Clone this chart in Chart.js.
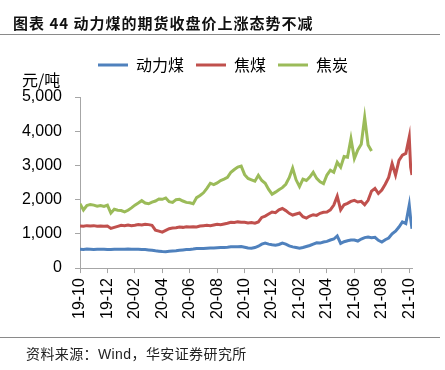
<!DOCTYPE html>
<html>
<head>
<meta charset="utf-8">
<script src="https://cdn.jsdelivr.net/npm/chart.js@4.4.0/dist/chart.umd.min.js"></script>
<style>
html, body { margin: 0; padding: 0; background: #fff; }
#wrap { position: relative; width: 445px; height: 370px; overflow: hidden; font-family: "Noto Sans CJK SC", sans-serif; }
#chart { position: absolute; left: 0; top: 0; }
#title { position: absolute; left: 13px; top: 12px; font-size: 15px; font-weight: bold; letter-spacing: 1px; color: #111; white-space: nowrap; }
.rule { position: absolute; left: 0; width: 440px; height: 1px; background: #8a8a8a; }
#unit { position: absolute; left: 22px; top: 67px; font-size: 16px; color: #000; }
#source { position: absolute; left: 26px; top: 343px; font-size: 14px; letter-spacing: 0.4px; color: #222; white-space: nowrap; }
#source .en { font-family: "Liberation Sans", Arial, sans-serif; }
</style>
</head>
<body>
<div id="wrap">
  <canvas id="chart" width="445" height="370"></canvas>
  <div id="title">图表 44 动力煤的期货收盘价上涨态势不减</div>
  <div class="rule" style="top:34px"></div>
  <div id="unit">元/吨</div>
  <div class="rule" style="top:337px"></div>
  <div id="source">资料来源：<span class="en">Wind</span>，华安证券研究所</div>
</div>
<script>
var seriesNames = ['动力煤', '焦煤', '焦炭'];
var tickLabels = ['19-10', '19-12', '20-02', '20-04', '20-06', '20-08', '20-10',
                  '20-12', '21-02', '21-04', '21-06', '21-08', '21-10'];

// x = months since 2019-10 (weekly, plus two late points in 2021-10)
var months = [];
for (var i = 0; i <= 96; i++) months.push(i / 4);
months.push(24.1, 24.2);

// 动力煤
var thermal = [
  550, 545, 555, 550, 545, 550, 548, 552,
  545, 540, 548, 552, 550, 548, 555, 550,
  552, 548, 545, 540, 530, 520, 505, 495,
  485, 480, 490, 500, 505, 520, 530, 540,
  545, 555, 570, 575, 570, 580, 585, 590,
  595, 600, 605, 610, 620, 625, 620, 630,
  610, 590, 580, 600, 640, 700, 730, 700,
  680, 670, 690, 730, 700, 650, 620, 600,
  580, 600, 630, 660, 700, 740, 730, 760,
  780, 820, 850, 940, 720, 770, 800, 820,
  820, 790, 850, 890, 910, 890, 900, 810,
  760, 830, 880, 1000, 1080, 1200, 1350, 1300,
  1840, 1450, 1150
];

// 焦煤
var cokingCoal = [
  1230, 1220, 1240, 1230, 1240, 1220, 1230, 1220,
  1230, 1160, 1190, 1220, 1250, 1240, 1260, 1240,
  1250, 1270, 1260, 1280, 1270, 1250, 1110, 1080,
  1050, 1100, 1150, 1170, 1180, 1200, 1190, 1210,
  1200, 1210, 1200, 1230, 1240, 1250, 1240, 1260,
  1280, 1270, 1290, 1310, 1340, 1330, 1350, 1340,
  1340, 1320, 1330, 1310, 1350, 1480, 1520, 1580,
  1640, 1620, 1700, 1740, 1680, 1600, 1550, 1580,
  1610, 1500, 1460, 1520, 1560, 1540, 1600, 1630,
  1640, 1700, 1840, 2100, 1700, 1850, 1890, 1950,
  1980, 1930, 1950, 1850, 1980, 2250, 2330, 2180,
  2280, 2450, 2650, 3050, 2720, 3150, 3300, 3350,
  3830, 2950, 2720
];

// 焦炭
var coke = [
  1880, 1700, 1830, 1860, 1840, 1810, 1830, 1800,
  1840, 1610, 1720, 1690, 1680, 1640, 1690, 1760,
  1840, 1900, 1970, 1900, 1880, 1930, 1960, 2020,
  2010, 2050, 1940, 1920, 2000, 2010, 1960, 1920,
  1910, 1880, 2060, 2120, 2200, 2330, 2480, 2440,
  2490, 2560, 2600, 2650, 2800, 2880, 2950, 2980,
  2730, 2620, 2580, 2540, 2710, 2560, 2480, 2300,
  2160, 2220, 2290, 2350, 2450, 2640, 2920, 2580,
  2380, 2600, 2560, 2660, 2800, 2620, 2520, 2470,
  2720, 2860, 2800, 3090, 2950, 3260, 3240, 3780,
  3200, 3450, 3620, 4400, 3600, 3420, null, null,
  null, null, null, null, null, null, null, null,
  null, null, null
];

var colors = ['#4F81BD', '#C0504D', '#9BBB59'];

function toPoints(values) {
  return months.map(function (m, i) { return { x: m, y: values[i] }; });
}

var axisGrey = '#a6a6a6';

// extra room under the legend, and nudge it right so it centres on the page
var legendTweak = {
  id: 'legendTweak',
  beforeInit: function (chart) {
    var fit = chart.legend.fit;
    chart.legend.fit = function () {
      fit.bind(chart.legend)();
      this.height += 14;
    };
  },
  afterLayout: function (chart) {
    chart.legend.left += 17;
    chart.legend.right += 17;
  }
};

window.onload = function () {
  var ctx = document.getElementById('chart').getContext('2d');
  new Chart(ctx, {
    type: 'line',
    data: {
      datasets: [thermal, cokingCoal, coke].map(function (vals, k) {
        return {
          label: seriesNames[k],
          data: toPoints(vals),
          borderColor: colors[k],
          backgroundColor: colors[k],
          borderWidth: 3,
          pointRadius: 0,
          tension: 0,
          spanGaps: false
        };
      })
    },
    options: {
      responsive: false,
      animation: false,
      layout: { padding: { left: 0, right: 33, top: 45, bottom: 46 } },
      plugins: {
        tooltip: { enabled: false },
        legend: {
          position: 'top',
          labels: {
            usePointStyle: true,
            pointStyle: 'line',
            pointStyleWidth: 30,
            padding: 12,
            color: '#000',
            font: { family: '"Noto Sans CJK SC", sans-serif', size: 16 }
          }
        }
      },
      scales: {
        x: {
          type: 'linear',
          min: 0,
          max: 24.2,
          afterBuildTicks: function (axis) {
            axis.ticks = tickLabels.map(function (t, i) { return { value: i * 2 }; });
          },
          grid: { drawOnChartArea: false, drawTicks: true, tickLength: 5, color: axisGrey },
          border: { color: axisGrey, width: 1 },
          ticks: {
            autoSkip: false,
            minRotation: 90,
            maxRotation: 90,
            padding: 5,
            color: '#000',
            font: { family: '"Liberation Sans", Arial, sans-serif', size: 16 },
            callback: function (v, i) { return tickLabels[i]; }
          }
        },
        y: {
          min: 0,
          max: 5000,
          afterFit: function (s) { s.width = 80; },
          grid: { drawOnChartArea: false, drawTicks: true, tickLength: 5, color: axisGrey },
          border: { color: axisGrey, width: 1 },
          ticks: {
            stepSize: 1000,
            padding: 13,
            color: '#000',
            font: { family: '"Liberation Sans", Arial, sans-serif', size: 16 }
          }
        }
      }
    },
    plugins: [legendTweak]
  });
};
</script>
</body>
</html>
